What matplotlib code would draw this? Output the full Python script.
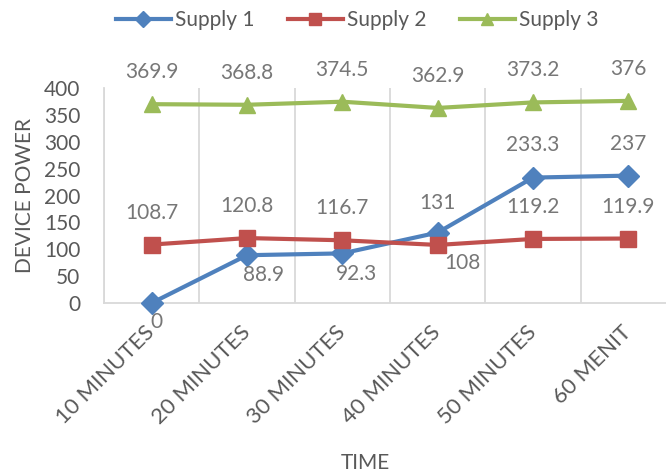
# Line chart of device power for three supplies over time
import matplotlib.pyplot as plt
from matplotlib.ticker import FixedLocator

plt.rcParams['font.family'] = ['Lato', 'DejaVu Sans']

# Chart data
times = ['10 MINUTES', '20 MINUTES', '30 MINUTES', '40 MINUTES', '50 MINUTES', '60 MENIT']
supply1 = [0, 88.9, 92.3, 131, 233.3, 237]
supply2 = [108.7, 120.8, 116.7, 108, 119.2, 119.9]
supply3 = [369.9, 368.8, 374.5, 362.9, 373.2, 376]
y_ticks = [0, 50, 100, 150, 200, 250, 300, 350, 400]

# label offsets in pixels (dx, dy), dy positive = up
off1 = [(5, -19), (17, -20), (14, -21), (0, 30), (0, 33), (0, 32)]
off2 = [(0, 32), (0, 32), (0, 32), (25, -18), (0, 32), (0, 32)]
off3 = [(0, 32)] * 6

grey_text = '#595959'
label_col = '#777777'
grid_col = '#D9D9D9'

fig = plt.figure(figsize=(6.66, 4.76), dpi=100)
ax = fig.add_axes([104 / 666, 1 - 303 / 476, 572 / 666, 215 / 476])

x = list(range(len(times)))

series = [
    (supply1, 'Supply 1', '#4F81BD', 'D', 11, off1),
    (supply2, 'Supply 2', '#C0504D', 's', 12, off2),
    (supply3, 'Supply 3', '#9BBB59', '^', 12, off3),
]

for vals, name, col, mk, ms, offs in series:
    ax.plot(x, vals, color=col, lw=3, marker=mk, markersize=ms,
            label=name, clip_on=False, zorder=3)
    for xi, v, (dx, dy) in zip(x, vals, offs):
        ax.annotate(f'{v:g}', (xi, v), xytext=(dx, dy), textcoords='offset pixels',
                    ha='center', va='center', fontsize=15, color=label_col)

ax.set_xlim(-0.5, len(times) - 0.5)
ax.set_ylim(0, 400)
ax.set_yticks(y_ticks)
ax.set_xticks(x)
ax.set_xticklabels(times)
ax.xaxis.set_minor_locator(FixedLocator([i - 0.5 for i in range(len(times) + 1)]))
ax.grid(axis='x', which='minor', color=grid_col, lw=1.3)
ax.tick_params(which='both', length=0)
ax.tick_params(axis='y', labelsize=15, labelcolor=grey_text, pad=17)
ax.tick_params(axis='x', labelsize=16, labelcolor=grey_text, pad=19)
plt.setp(ax.get_xticklabels(), rotation=45, ha='right', va='center',
         rotation_mode='anchor')

for s in ['top', 'right']:
    ax.spines[s].set_visible(False)
for s in ['left', 'bottom']:
    ax.spines[s].set_color(grid_col)
    ax.spines[s].set_linewidth(1.3)

fig.text(25 / 666, 1 - 195.5 / 476, 'DEVICE POWER', rotation=90, ha='center',
         va='center', fontsize=15, color=grey_text)
fig.text(365 / 666, 1 - 463 / 476, 'TIME', ha='center', va='center',
         fontsize=15, color=grey_text)

fig.legend(loc='center', bbox_to_anchor=(357 / 666, 1 - 20 / 476), ncol=3,
           frameon=False, fontsize=15, handlelength=2.64, handletextpad=0.2,
           columnspacing=1.6, markerscale=0.7, borderpad=0, labelcolor=grey_text)

plt.savefig('out.png')
plt.close()
